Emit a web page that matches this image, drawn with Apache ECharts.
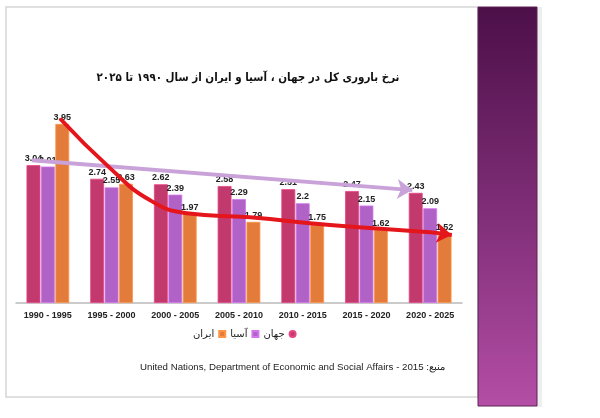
<!DOCTYPE html>
<html>
<head>
<meta charset="utf-8">
<script src="https://cdn.jsdelivr.net/npm/echarts@6/dist/echarts.min.js"></script>
<style>
  html, body { margin: 0; padding: 0; background: #fff; }
  #chart { width: 600px; height: 418px; }
</style>
</head>
<body>
<div id="chart"></div>
<script>
// periods and total fertility rate per region
const periods = ['1990 - 1995', '1995 - 2000', '2000 - 2005', '2005 - 2010', '2010 - 2015', '2015 - 2020', '2020 - 2025'];
const world = [3.04, 2.74, 2.62, 2.58, 2.51, 2.47, 2.43];
const asia = [3.01, 2.55, 2.39, 2.29, 2.2, 2.15, 2.09];
const iran = [3.95, 2.63, 1.97, 1.79, 1.75, 1.62, 1.52];

// hand drawn trend arrows (x in category units, y in rate)
const iranTrend = [[0.69, 4.07], [1.48, 2.97], [2.1, 2.27], [2.68, 1.98], [3.67, 1.89], [4.93, 1.72], [6.5, 1.56], [6.84, 1.5]];
const worldTrend = [[0.25, 3.15], [6.22, 2.49]];

const colors = { world: '#c2396e', asia: '#b062c6', iran: '#e37c3a' };

const chart = echarts.init(document.getElementById('chart'));

const barLabel = {
  show: true,
  position: 'top',
  distance: 2,
  color: '#222',
  fontSize: 9,
  fontWeight: 'bold',
  fontFamily: 'Liberation Sans'
};

function bar(name, data, color) {
  return {
    name: name,
    type: 'bar',
    data: data,
    barGap: '4%',
    barCategoryGap: '33%',
    itemStyle: { color: color, borderColor: echarts.color.lift(color, -0.2), borderWidth: 0.8 },
    label: barLabel,
    z: 2
  };
}

function arrowLine(data, color, width, smooth, rotate) {
  const pts = data.map((p, i) => i === data.length - 1
    ? { value: p, symbol: 'arrow', symbolSize: [15, 15], symbolRotate: rotate }
    : { value: p, symbol: 'none' });
  return {
    type: 'line',
    xAxisIndex: 1,
    data: pts,
    smooth: smooth,
    symbol: 'none',
    showSymbol: true,
    lineStyle: { color: color, width: width },
    itemStyle: { color: color },
    silent: true,
    z: 5
  };
}

chart.setOption({
  animation: false,
  backgroundColor: '#fff',
  graphic: [
    { type: 'rect', shape: { x: 6, y: 7, width: 472, height: 390 }, style: { fill: '#fff', stroke: '#d6d6d6', lineWidth: 1.5 }, z: -10 },
    { type: 'rect', shape: { x: 537, y: 7, width: 5, height: 400 }, style: { fill: '#eeeeee' }, z: -10 },
    {
      type: 'rect', shape: { x: 478, y: 7, width: 59, height: 399 },
      style: {
        fill: new echarts.graphic.LinearGradient(0, 0, 0, 1, [
          { offset: 0, color: '#4c0f48' },
          { offset: 0.5, color: '#7e2d76' },
          { offset: 1, color: '#b44ea6' }
        ]),
        stroke: '#5a2554', lineWidth: 1
      },
      z: -10
    },
    {
      type: 'text', left: 140, top: 362,
      style: {
        text: 'United Nations, Department of Economic and Social Affairs - 2015 :منبع',
        fill: '#222', fontSize: 9.7, fontFamily: 'Liberation Sans'
      }
    }
  ],
  title: {
    text: 'نرخ باروری کل در جهان ، آسیا و ایران از سال ۱۹۹۰ تا ۲۰۲۵',
    left: 243, top: 67, textAlign: 'center',
    textStyle: { fontSize: 11.5, fontWeight: 'bold', color: '#111', fontFamily: '"DejaVu Sans Condensed", "DejaVu Sans"' }
  },
  legend: {
    data: ['ایران', 'آسیا', { name: 'جهان', icon: 'circle' }],
    align: 'right',
    top: 324, left: 188,
    itemWidth: 6, itemHeight: 6, itemGap: 4,
    icon: 'rect',
    textStyle: { fontSize: 10, color: '#222', fontFamily: 'DejaVu Sans', padding: [0, 0, 0, 0] },
    selectedMode: false
  },
  grid: { left: 16, right: 138, top: 99, bottom: 115 },
  xAxis: [
    {
      type: 'category',
      data: periods,
      axisLine: { lineStyle: { color: '#bbb', width: 1.5 } },
      axisTick: { show: false },
      axisLabel: { color: '#222', fontSize: 9, fontWeight: 'bold', fontFamily: 'Liberation Sans', margin: 8, interval: 0 }
    },
    { type: 'value', min: 0, max: 7, show: false }
  ],
  yAxis: { type: 'value', min: 0, max: 4.5, show: false, splitLine: { show: false } },
  series: [
    bar('جهان', world, colors.world),
    bar('آسیا', asia, colors.asia),
    bar('ایران', iran, colors.iran),
    arrowLine(worldTrend, '#c9a2d9', 4, false, -94),
    arrowLine(iranTrend, '#e5161b', 4, true, -98)
  ]
});

window.addEventListener('resize', () => chart.resize());
</script>
</body>
</html>
